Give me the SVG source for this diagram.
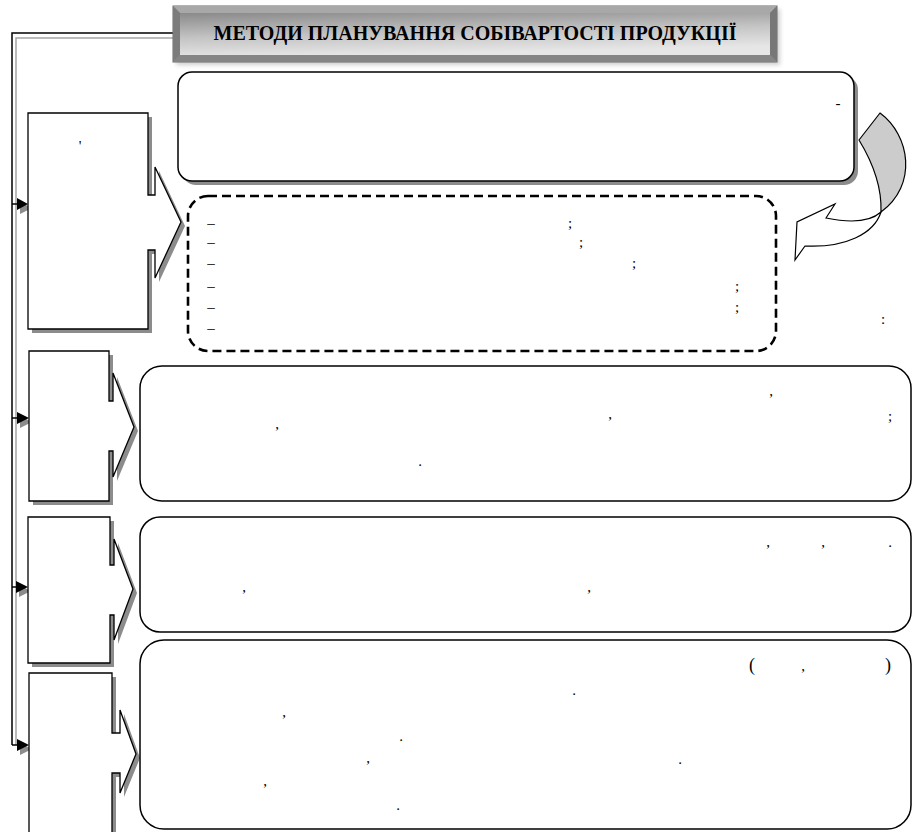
<svg xmlns="http://www.w3.org/2000/svg" width="913" height="832" viewBox="0 0 913 832">
<defs>
<linearGradient id="face" x1="0" y1="0" x2="0.3" y2="1">
<stop offset="0" stop-color="#8a8a8a"/>
<stop offset="0.55" stop-color="#c4c4c4"/>
<stop offset="1" stop-color="#e6e6e6"/>
</linearGradient>
<filter id="soft" x="-5%" y="-20%" width="110%" height="150%"><feGaussianBlur stdDeviation="2"/></filter>
</defs>
<style>
.box{fill:#fff;stroke:#000;stroke-width:1.5}
.shd{fill:#8c8c8c;stroke:none}
.call{fill:#fff;stroke:#000;stroke-width:1.3;stroke-linejoin:miter}
.dash{fill:none;stroke:#000;stroke-width:2.6;stroke-dasharray:9 5}
.p{font-family:"Liberation Serif","DejaVu Serif",serif;font-size:15px;fill:#000;text-anchor:middle}
.ttl{font-family:"Liberation Serif","DejaVu Serif",serif;font-size:21px;font-weight:bold;fill:#000;text-anchor:middle}
.ln{fill:none;stroke:#000;stroke-width:1.5}
.lg{fill:none;stroke:#a6a6a6;stroke-width:1.5}
.ah{fill:#000}
.ahs{fill:#8c8c8c}
</style>

<g id="connectors">
<path class="lg" d="M173,38 H16 V745"/>
<path class="ln" d="M173,33 H12 V745"/>
<g>
<polygon class="ahs" points="20,202 32,208 20,214"/>
<path class="ln" d="M12,204 H18"/>
<polygon class="ah" points="17,198 28,204 17,210"/>
</g>
<g>
<polygon class="ahs" points="20,416 32,422 20,428"/>
<path class="ln" d="M12,418 H18"/>
<polygon class="ah" points="17,412 29,418 17,424"/>
</g>
<g>
<polygon class="ahs" points="19,585 31,591 19,597"/>
<path class="ln" d="M12,587 H18"/>
<polygon class="ah" points="16,581 28,587 16,593"/>
</g>
<g>
<polygon class="ahs" points="20,743 32,749 20,755"/>
<path class="ln" d="M12,745 H18"/>
<polygon class="ah" points="17,739 29,745 17,751"/>
</g>
</g>

<g id="title">
<rect x="176" y="9" width="604" height="56" fill="#bbb" opacity="0.7" filter="url(#soft)"/>
<rect x="173" y="6" width="604" height="56" fill="#8f8f8f" stroke="#6a6a6a" stroke-width="1"/>
<polygon points="173,6 777,6 770,13 180,13" fill="#a8a8a8"/>
<polygon points="173,6 180,13 180,55 173,62" fill="#7c7c7c"/>
<polygon points="777,6 777,62 770,55 770,13" fill="#777"/>
<polygon points="173,62 180,55 770,55 777,62" fill="#858585"/>
<rect x="180" y="13" width="590" height="42" fill="url(#face)"/>
<text class="ttl" x="475" y="40" textLength="523" lengthAdjust="spacingAndGlyphs">МЕТОДИ ПЛАНУВАННЯ СОБІВАРТОСТІ ПРОДУКЦІЇ</text>
</g>

<g id="box1">
<rect class="shd" x="182" y="76" width="676" height="109" rx="14"/>
<rect class="box" x="178" y="72" width="676" height="109" rx="14"/>
<text class="p" x="838" y="108">-</text>
</g>

<g id="curved-arrow">
<path d="M880,113 C910,135 918,185 881,212 C882,185 870,158 859,140 Z" fill="#cccccc" stroke="#000" stroke-width="1.2" stroke-linejoin="round"/>
<path d="M881,212 C870,222 850,223 826,218 L835,204 L797,222 L795,260 L805,246 C845,248 874,234 881,212 Z" fill="#fff" stroke="#000" stroke-width="1.2" stroke-linejoin="miter"/>
</g>

<g id="left1">
<path class="shd" d="M32,117 H152 V199 H159 V171 L185,226 L159,282 V254 H152 V333 H32 Z"/>
<path class="call" d="M28,113 H148 V195 H155 V167 L181,222 L155,278 V250 H148 V329 H28 Z"/>
<text class="p" x="80" y="151">'</text>
</g>

<g id="list">
<rect class="dash" x="188" y="196" width="588" height="155" rx="20"/>
<text class="p" x="211" y="228">–</text>
<text class="p" x="211" y="247">–</text>
<text class="p" x="211" y="268">–</text>
<text class="p" x="211" y="291">–</text>
<text class="p" x="211" y="312">–</text>
<text class="p" x="211" y="333">–</text>
<text class="p" x="570" y="228">;</text>
<text class="p" x="581" y="247">;</text>
<text class="p" x="634" y="268">;</text>
<text class="p" x="737" y="291">;</text>
<text class="p" x="737" y="312">;</text>
<text class="p" x="883" y="324">:</text>
</g>

<g id="left2">
<path class="shd" d="M33,355 H113 V405 H117 V377 L138,431 L117,481 V455 H113 V505 H33 Z"/>
<path class="call" d="M29,351 H109 V401 H113 V373 L134,427 L113,477 V451 H109 V501 H29 Z"/>
</g>
<g id="box2">
<rect class="box" x="140" y="366" width="771" height="135" rx="22"/>
<text class="p" x="771" y="396">,</text>
<text class="p" x="610" y="419">,</text>
<text class="p" x="890" y="421">;</text>
<text class="p" x="277" y="429">,</text>
<text class="p" x="420" y="466">.</text>
</g>

<g id="left3">
<path class="shd" d="M32,521 H114 V569 H118 V543 L137,593 L118,644 V619 H114 V667 H32 Z"/>
<path class="call" d="M28,517 H110 V565 H114 V539 L133,589 L114,640 V615 H110 V663 H28 Z"/>
</g>
<g id="box3">
<rect class="box" x="140" y="517" width="771" height="115" rx="20"/>
<text class="p" x="768" y="547">,</text>
<text class="p" x="823" y="547">,</text>
<text class="p" x="890" y="547">.</text>
<text class="p" x="244" y="592">,</text>
<text class="p" x="589" y="592">,</text>
</g>

<g id="left4">
<path class="shd" d="M33,677 H116 V737 H124 V714 L140,758 L124,797 V777 H116 V844 H33 Z"/>
<path class="call" d="M29,673 H112 V733 H120 V710 L136,754 L120,793 V773 H112 V840 H29 Z"/>
</g>
<g id="box4">
<rect class="box" x="140" y="640" width="771" height="189" rx="24"/>
<text class="p" x="752" y="671" style="font-size:18px">(</text>
<text class="p" x="803" y="671">,</text>
<text class="p" x="888" y="671" style="font-size:18px">)</text>
<text class="p" x="574" y="695">.</text>
<text class="p" x="284" y="717">,</text>
<text class="p" x="401" y="741">.</text>
<text class="p" x="368" y="763">,</text>
<text class="p" x="680" y="764">.</text>
<text class="p" x="265" y="786">,</text>
<text class="p" x="398" y="810">.</text>
</g>
</svg>
